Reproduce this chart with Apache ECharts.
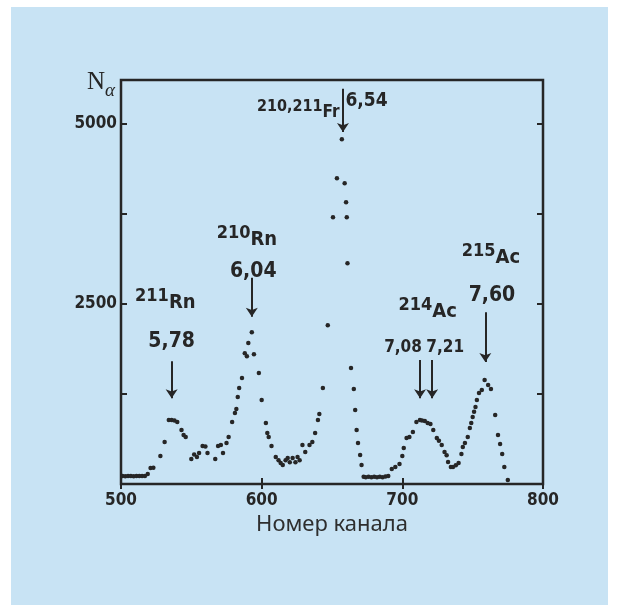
<!DOCTYPE html>
<html>
<head>
<meta charset="utf-8">
<script src="https://cdn.jsdelivr.net/npm/echarts@6/dist/echarts.min.js"></script>
<style>
  html, body { margin: 0; padding: 0; background: #ffffff; }
  #wrap { position: relative; width: 619px; height: 612px; }
  #panel { position: absolute; left: 11px; top: 7px; width: 597px; height: 598px; background: #c8e3f4; }
  #chart { position: absolute; left: 0; top: 0; width: 619px; height: 612px; }
</style>
</head>
<body>
<div id="wrap"><div id="panel"></div><div id="chart"></div></div>
<script>
// Alpha spectrum: counts per channel
const channels = [
  501, 503, 505, 507, 509, 511, 513, 515, 517, 519, 521, 523, 528, 531, 534, 536, 538, 540,
  543, 544.5, 546, 550, 552, 554, 555.5, 558, 560, 561.5, 567, 569, 571, 572.5, 575, 576.5,
  579, 581, 582, 583, 584, 586, 588, 589.5, 590.5, 593, 594.5, 598, 600, 603, 604, 605, 607,
  610, 612, 613.5, 615, 617, 618.5, 620, 622, 624, 625.5, 627, 629, 631, 634, 636, 638, 640,
  641, 643.5, 647, 650.7, 653.5, 657, 659, 660, 660.5, 661, 663.5, 665.5, 666.5, 667.5, 668.5,
  670, 671, 672.5, 674, 676, 678, 680, 682, 684, 686, 688, 690, 692.5, 695, 698, 700, 701,
  703, 705, 707.5, 710, 712.5, 714, 716, 718, 720, 722, 724.5, 726, 728, 730, 731.5, 732.5,
  734.5, 736, 738, 740, 742, 743, 744.5, 746.5, 748, 749, 750, 751, 752, 753, 754.5, 756.5,
  758.5, 761, 763, 766, 768, 769.5, 771, 772.5, 775
];
const counts = [
  112, 108, 110, 112, 108, 110, 112, 110, 112, 138, 222, 225, 388, 582, 886, 886, 880, 860,
  748, 679, 651, 346, 410, 374, 429, 526, 520, 429, 346, 526, 540, 429, 568, 651,
  859, 983, 1039, 1205, 1330, 1468, 1814, 1770, 1953, 2105, 1800, 1537, 1163, 845, 706, 651, 526,
  374, 330, 291, 263, 330, 360, 300, 360, 300, 374, 330, 540, 443, 540, 582, 706, 886,
  970, 1330, 2200, 3698, 4238, 4778, 4169, 3906, 3698, 3061, 1607, 1316, 1025, 748, 568,
  402, 263, 100, 95, 100, 92, 100, 95, 100, 95, 105, 110, 208, 235, 277, 388, 499,
  637, 651, 720, 859, 886, 880, 872, 845, 831, 748, 637, 600, 540, 443, 400, 305,
  235, 235, 260, 291, 415, 512, 568, 651, 776, 845, 928, 1000, 1066, 1163, 1260, 1302,
  1440, 1371, 1316, 956, 679, 554, 415, 235, 55
];

// Axis ticks
const xTickValues = [500, 600, 700, 800];
const yLabelValues = [2500, 5000];

// Peak annotations: isotope, line energy (MeV) and the channel each arrow points at
const isotopeMass = ['211', '210', '210,211', '214', '215'];
const isotopeSymbol = ['Rn', 'Rn', 'Fr', 'Ac', 'Ac'];
const energies = ['5,78', '6,04', '6,54', '7,08', '7,21', '7,60'];
const energyChannels = [536, 593, 657.8, 712.6, 721.2, 759];

// Layout of the annotation texts and arrows, in axis units
const isotopeAnchor = [[531.5, 2560], [589.5, 3430], [626, 5190], [718, 2430], [763, 3180]];
const isotopeStyle = [['m', 'e'], ['m', 'e'], ['ms', 'es'], ['m', 'e'], ['m', 'e']];
const energyAnchor = [[536, 1970], [594, 2940], [674.5, 5310], [700.5, 1890], [730.5, 1890], [763.7, 2610]];
const energyStyle = ['v', 'v', 'vm', 'vs', 'vs', 'v'];
const arrowSpan = [[1700, 1190], [2860, 2320], [5480, 4880], [1720, 1190], [1720, 1190], [2380, 1690]];

const ink = '#262626';
const hand = "'DejaVu Sans Condensed', 'Liberation Sans Narrow', 'DejaVu Sans', sans-serif";

const points = channels.map((c, i) => [c, counts[i]]);

const labelItems = [];
isotopeMass.forEach((m, i) => {
  const st = isotopeStyle[i];
  labelItems.push({
    name: '{' + st[0] + '|' + m + '}{' + st[1] + '|' + isotopeSymbol[i] + '}',
    value: isotopeAnchor[i]
  });
});
energies.forEach((e, i) => {
  labelItems.push({ name: '{' + energyStyle[i] + '|' + e + '}', value: energyAnchor[i] });
});

const arrows = energyChannels.map((c, i) => [
  { coord: [c, arrowSpan[i][0]] },
  { coord: [c, arrowSpan[i][1]] }
]);

const chart = echarts.init(document.getElementById('chart'), null, { renderer: 'canvas' });

const tickStyle = { inside: true, length: 6, lineStyle: { color: ink, width: 2 } };
const txt = { fontFamily: hand, fontWeight: 'bold', color: ink, textBorderWidth: 0 };

chart.setOption({
  animation: false,
  backgroundColor: 'transparent',
  grid: {
    left: 121, top: 80, right: 76, bottom: 128,
    show: true, borderColor: ink, borderWidth: 2.5, backgroundColor: 'transparent'
  },
  xAxis: [
    {
      type: 'value', min: 500, max: 800, interval: 100, position: 'bottom',
      axisLine: { show: false }, splitLine: { show: false },
      axisTick: tickStyle,
      axisLabel: {
        color: ink, fontFamily: hand, fontWeight: 'bold', fontSize: 17, margin: 8,
        formatter: v => (xTickValues.indexOf(v) >= 0 ? String(v) : '')
      },
      name: 'Номер канала', nameLocation: 'middle', nameGap: 28,
      nameTextStyle: { color: '#2e2e2e', fontFamily: "'Noto Sans', sans-serif", fontSize: 22 }
    },
    {
      type: 'value', min: 500, max: 800, interval: 100, position: 'top',
      axisLine: { show: false }, splitLine: { show: false },
      axisTick: { inside: true, length: 5, lineStyle: { color: ink, width: 2 } },
      axisLabel: { show: false }
    }
  ],
  yAxis: [
    {
      type: 'value', min: 0, max: 5600, interval: 1250, position: 'left',
      axisLine: { show: false }, splitLine: { show: false },
      axisTick: tickStyle,
      axisLabel: {
        color: ink, fontFamily: hand, fontWeight: 'bold', fontSize: 17, margin: 4,
        formatter: v => (yLabelValues.indexOf(v) >= 0 ? String(v) : '')
      },
      name: '{n|N}{a|α}', nameLocation: 'end', nameGap: -5,
      nameTextStyle: {
        align: 'right', verticalAlign: 'middle', padding: [0, 6, 0, 0],
        rich: {
          n: { fontFamily: "'Liberation Serif', 'DejaVu Serif', serif", fontSize: 25, color: ink, padding: [0, 0, 6, 0] },
          a: { fontFamily: "'Liberation Serif', 'DejaVu Serif', serif", fontStyle: 'italic', fontSize: 19, color: ink, padding: [12, 0, 0, 0] }
        }
      }
    },
    {
      type: 'value', min: 0, max: 5600, interval: 1250, position: 'right',
      axisLine: { show: false }, splitLine: { show: false },
      axisTick: tickStyle,
      axisLabel: { show: false }
    }
  ],
  series: [
    {
      name: 'counts', type: 'scatter', data: points,
      symbol: 'circle', symbolSize: 4.5,
      itemStyle: { color: ink, opacity: 1 }
    },
    {
      name: 'peaks', type: 'scatter', data: labelItems,
      symbolSize: 0, silent: true,
      itemStyle: { color: ink, opacity: 1 },
      label: {
        show: true, position: 'inside', color: ink, textBorderWidth: 0,
        formatter: p => p.name,
        rich: {
          m: Object.assign({ fontSize: 18, padding: [0, 0, 6, 0] }, txt),
          e: Object.assign({ fontSize: 20, padding: [6, 0, 0, 0] }, txt),
          ms: Object.assign({ fontSize: 16, padding: [0, 0, 5, 0] }, txt),
          es: Object.assign({ fontSize: 17, padding: [5, 0, 0, 0] }, txt),
          v: Object.assign({ fontSize: 21 }, txt),
          vm: Object.assign({ fontSize: 19 }, txt),
          vs: Object.assign({ fontSize: 17 }, txt)
        }
      },
      markLine: {
        silent: true, animation: false,
        symbol: ['none', 'arrow'], symbolSize: 9,
        label: { show: false },
        lineStyle: { color: ink, width: 2, type: 'solid', opacity: 1 },
        data: arrows
      }
    }
  ]
});
</script>
</body>
</html>
